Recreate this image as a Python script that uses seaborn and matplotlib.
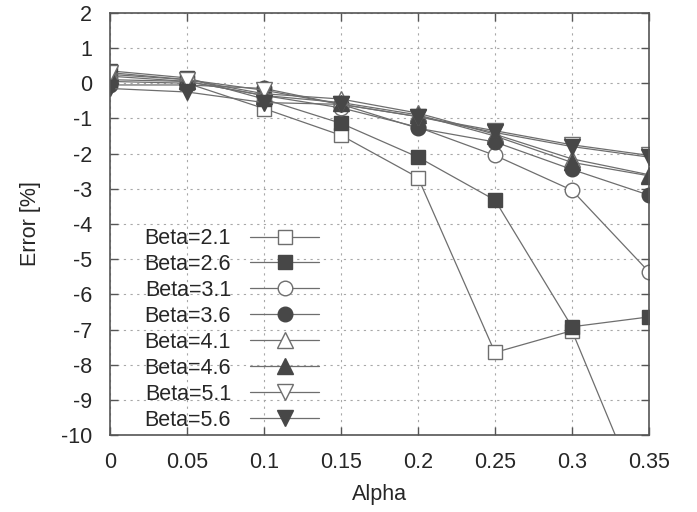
import pandas as pd
import matplotlib
matplotlib.use('Agg')
import matplotlib.pyplot as plt
import seaborn as sns

# Data
alpha = [0, 0.05, 0.1, 0.15, 0.2, 0.25, 0.3, 0.35]
betas = ['2.1', '2.6', '3.1', '3.6', '4.1', '4.6', '5.1', '5.6']
err_21 = [0.05, 0.0, -0.72, -1.48, -2.68, -7.65, -7.03, -12.3]
err_26 = [0.35, 0.15, -0.45, -1.14, -2.1, -3.32, -6.92, -6.64]
err_31 = [0.1, 0.05, -0.35, -0.7, -1.25, -2.05, -3.04, -5.36]
err_36 = [-0.05, -0.05, -0.15, -0.6, -1.28, -1.67, -2.45, -3.18]
err_41 = [0.25, 0.1, -0.3, -0.45, -0.85, -1.45, -2.15, -2.6]
err_46 = [0.2, 0.05, -0.35, -0.55, -0.9, -1.5, -2.25, -2.63]
err_51 = [0.3, 0.1, -0.2, -0.6, -0.95, -1.35, -1.75, -2.05]
err_56 = [-0.15, -0.25, -0.55, -0.6, -0.95, -1.4, -1.8, -2.1]
errors = [err_21, err_26, err_31, err_36, err_41, err_46, err_51, err_56]

markers = ['s', 's', 'o', 'o', '^', '^', 'v', 'v']
filled = [False, True, False, True, False, True, False, True]

sns.set_style('ticks')
plt.rcParams['font.family'] = ['Liberation Sans', 'DejaVu Sans']
plt.rcParams['font.size'] = 15.5
plt.rcParams['axes.unicode_minus'] = False

fig = plt.figure(figsize=(6.97, 5.12), dpi=100)
ax = fig.add_axes([0.158, 0.150, 0.773, 0.825])

line_col = '#6e6e6e'
mark_col = '#474747'

for b, e, m, f in zip(betas, errors, markers, filled):
    df = pd.DataFrame({'Alpha': alpha, 'Error': e})
    sns.lineplot(data=df, x='Alpha', y='Error', ax=ax, color=line_col,
                 linewidth=0.9, marker=m, markersize=10.5 if m in 'so' else 11.5,
                 markerfacecolor=mark_col if f else 'white',
                 markeredgecolor=mark_col if f else line_col,
                 markeredgewidth=1.0, label='Beta=' + b)

ax.set_xlim(0, 0.35)
ax.set_ylim(-10, 2)
ax.set_xticks(alpha)
ax.set_xticklabels(['0', '0.05', '0.1', '0.15', '0.2', '0.25', '0.3', '0.35'])
ax.set_yticks(range(-10, 3))
ax.set_xlabel('Alpha', labelpad=8)
ax.set_ylabel('Error [%]', labelpad=14)

ax.grid(True, linestyle=(0, (2, 4)), color='#a8a8a8', linewidth=0.8)
ax.tick_params(direction='in', length=6, top=True, right=True, width=1,
               color='#555555')
ax.tick_params(axis='x', pad=12)
ax.tick_params(axis='y', pad=13)
for s in ax.spines.values():
    s.set_color('#555555')
    s.set_linewidth(1.2)

ax.legend(loc='lower left', bbox_to_anchor=(0.04, -0.02), frameon=False,
          markerfirst=False, handlelength=3.2, labelspacing=0.23,
          handletextpad=0.9, fontsize=15.5, borderaxespad=0.2)

fig.savefig('out.png', dpi=100)
